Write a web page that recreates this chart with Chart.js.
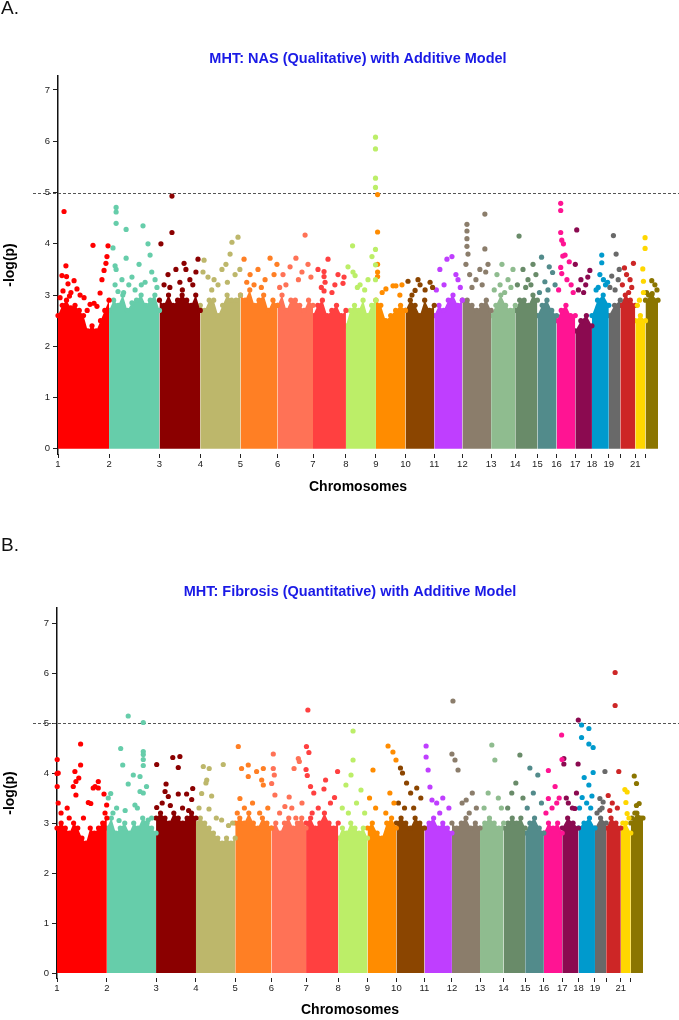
<!DOCTYPE html>
<html><head><meta charset="utf-8">
<script src="https://cdn.jsdelivr.net/npm/chart.js@4.4.0/dist/chart.umd.min.js"></script>
<style>
html,body{margin:0;padding:0;background:#fff;width:679px;height:1020px;overflow:hidden;font-family:"Liberation Sans",Arial,sans-serif;}
.lbl{position:absolute;left:1px;font-size:19px;color:#111;z-index:2;}
.box{position:absolute;left:0;width:679px;height:510px;}
</style></head><body>
<div class="lbl" style="top:-3px">A.</div>
<div class="box" style="top:0"><canvas id="cA" width="679" height="510"></canvas></div>
<div class="lbl" style="top:534px">B.</div>
<div class="box" style="top:510px"><canvas id="cB" width="679" height="510"></canvas></div>
<script>
const chromosomes = ['1','2','3','4','5','6','7','8','9','10','11','12','13','14','15','16','17','18','19','20','21','22'];
const chromSpanMb = [245,242,196,193,178,170,158,144,142,138,135,138,116,106,92,90,80,81,55,72,49,60];
const tickLabels = ['1','2','3','4','5','6','7','8','9','10','11','12','13','14','15','16','17','18','19','','21',''];
const yTickValues = [0,1,2,3,4,5,6,7];
const chromColors = ['#FF0000','#66CDAA','#8B0000','#BDB76B','#FF7F24','#FF7256','#FF4040','#BCEE68','#FF8C00','#8B4500','#BF3EFF','#8B7D6B','#8FBC8F','#698B69','#528B8B','#FF1493','#8B0A50','#009ACD','#696969','#CD2626','#FFD700','#8B7500'];
const significanceThreshold = 5;
const titleA = 'MHT: NAS (Qualitative) with Additive Model';
const titleB = 'MHT: Fibrosis (Quantitative) with Additive Model';

// Panel A: top of the dense band of SNPs, sampled evenly along each chromosome
const envA = [
 [2.6,2.8,2.9,2.75,2.8,2.7,2.6,2.3,2.4,2.3,2.5,2.7,2.9],
 [2.7,2.9,2.8,3.0,2.7,2.85,2.9,3.0,2.8,2.9,3.0,2.7],
 [2.9,2.8,3.0,2.8,2.9,3.0,2.9,2.8,3.0,2.7],
 [2.8,2.7,2.9,2.9,2.6,2.8,3.0,2.9,2.9,3.0],
 [3.0,2.9,3.1,2.8,2.9,3.0,2.7,2.9,2.8],
 [2.8,3.0,2.7,2.9,2.9,2.8,2.7,2.9,2.8],
 [2.6,2.8,2.9,2.6,2.7,2.8,2.6,2.7],
 [2.4,2.7,2.8,2.7,2.9,2.6,2.8,2.9],
 [2.9,2.8,2.5,2.6,2.7,2.8,2.7],
 [2.7,2.9,2.8,2.6,2.9,2.7,2.8],
 [2.6,2.8,2.7,2.9,3.0,2.8,2.9],
 [2.9,2.9,2.8,2.7,2.8,2.9,2.7],
 [2.6,2.8,3.0,2.8,2.7,2.8],
 [2.7,2.9,2.9,2.8,3.0,2.9],
 [2.6,2.8,2.9,2.7,2.6],
 [2.5,2.7,2.8,2.6,2.6],
 [2.3,2.5,2.6,2.4],
 [2.6,2.9,3.0,2.8],
 [2.6,2.8,2.9],
 [2.8,3.0,2.9,2.8],
 [2.5,2.6,2.5],
 [2.9,3.0,2.9]
];
// Panel A: individual SNPs above the band, [position within chromosome (Mb), -log(p)]
const peaksA = [
 [[29,4.63],[168,3.97],[240,3.96],[235,3.75],[230,3.62],[221,3.48],[211,3.3],[38,3.57],[19,3.38],[41,3.36],[77,3.28],[48,3.22],[91,3.12],[24,3.08],[62,3.05],[106,3.0],[154,2.82],[173,2.84],[202,3.04],[187,2.78],[125,2.95],[10,2.95],[55,2.98],[140,2.7]],
 [[34,4.71],[34,4.62],[34,4.40],[19,3.92],[29,3.57],[34,3.5],[29,3.2],[43,3.07],[82,3.72],[82,4.28],[163,4.35],[187,4.0],[197,3.78],[144,3.6],[110,3.35],[62,3.3],[173,3.25],[221,3.3],[125,3.1],[95,3.2],[205,3.45],[230,3.15],[155,3.2],[70,3.05]],
 [[60,4.93],[60,4.22],[7,4.0],[118,3.62],[127,3.5],[175,3.45],[79,3.5],[41,3.4],[146,3.3],[98,3.25],[22,3.2],[185,3.7],[160,3.2],[110,3.1],[50,3.15]],
 [[18,3.68],[13,3.45],[37,3.35],[66,3.3],[104,3.5],[143,3.8],[152,4.03],[181,4.13],[123,3.6],[167,3.4],[85,3.2],[190,3.5],[55,3.1],[130,3.25]],
 [[17,3.7],[46,3.4],[84,3.5],[142,3.72],[118,3.3],[161,3.4],[65,3.2],[30,3.25],[100,3.15],[175,3.6]],
 [[26,3.4],[60,3.55],[88,3.72],[117,3.45],[132,4.17],[146,3.6],[40,3.2],[100,3.3],[160,3.35],[10,3.15]],
 [[53,3.46],[53,3.36],[58,3.25],[53,3.08],[91,3.05],[24,3.5],[120,3.4],[149,3.35],[144,3.23],[72,3.7],[40,3.15],[105,3.2]],
 [[10,3.55],[32,3.96],[34,3.45],[44,3.38],[68,3.2],[106,3.3],[125,3.75],[142,6.08],[142,5.85],[142,5.28],[142,5.10],[142,3.89],[142,3.59],[142,3.3],[90,3.1],[55,3.15]],
 [[8,4.96],[8,4.23],[8,3.45],[8,3.36],[8,3.6],[48,3.12],[82,3.18],[96,3.18],[115,3.0],[125,3.2],[30,3.05]],
 [[12,3.27],[46,3.09],[70,3.2],[94,3.1],[118,3.25],[31,3.0],[130,3.15],[60,3.3]],
 [[27,3.5],[61,3.7],[85,3.75],[104,3.4],[47,3.2],[114,3.3],[10,3.1],[125,3.15]],
 [[22,4.38],[22,4.25],[22,4.1],[22,3.95],[27,3.8],[17,3.6],[108,4.58],[65,3.3],[84,3.5],[123,3.6],[46,3.15],[108,3.9],[112,3.45],[95,3.2],[35,3.4]],
 [[28,3.4],[52,3.6],[81,3.3],[105,3.5],[43,3.2],[15,3.1],[95,3.15],[65,3.05]],
 [[18,4.15],[37,3.5],[61,3.3],[85,3.6],[99,3.4],[50,3.15],[75,3.2],[10,3.2]],
 [[20,3.74],[57,3.55],[73,3.44],[36,3.26],[51,3.1],[85,3.2],[10,3.05]],
 [[20,4.79],[20,4.65],[20,4.22],[25,4.07],[33,4.0],[30,3.76],[41,3.78],[61,3.65],[20,3.54],[25,3.42],[50,3.3],[70,3.2],[80,3.05],[10,3.1]],
 [[7,4.27],[0,3.6],[70,3.48],[27,3.3],[50,3.2],[60,3.35],[15,3.1],[40,3.05]],
 [[47,3.78],[47,3.63],[38,3.4],[55,3.3],[65,3.2],[20,3.1],[75,3.25],[30,3.15]],
 [[22,4.16],[35,3.8],[14,3.37],[45,3.3],[5,3.15],[30,3.1],[50,3.5]],
 [[20,3.53],[63,3.62],[30,3.4],[47,3.3],[10,3.2],[55,3.15],[40,3.05]],
 [[47,4.12],[47,3.91],[36,3.51],[39,3.27],[39,3.05],[20,2.9],[10,2.8]],
 [[30,3.28],[45,3.2],[32,3.03],[15,3.0],[55,3.1],[5,3.05]]
];

// Panel B
const envB = [
 [2.9,3.0,2.9,2.8,3.0,2.9,2.7,2.6,2.9,2.8,2.9,3.0,3.1],
 [2.9,3.1,2.8,2.9,3.0,2.8,3.0,2.9,3.1,3.0,2.9,2.8],
 [3.1,3.2,3.1,3.0,3.2,3.1,3.0,3.1,3.2,3.1],
 [3.0,3.1,3.0,2.9,2.8,2.7,2.6,2.7,2.6,2.7],
 [3.0,3.1,3.0,3.2,3.0,2.9,3.1,3.0,2.9],
 [2.9,3.0,2.8,3.0,3.1,2.9,3.0,3.1,2.9],
 [3.0,3.1,2.9,3.0,3.2,3.0,2.9,3.0],
 [2.7,2.9,2.8,3.0,2.9,2.8,2.9,2.7],
 [2.9,3.0,2.8,2.7,3.0,3.1,2.9],
 [3.0,3.1,3.0,2.9,3.1,3.0,2.9],
 [2.9,3.0,3.1,2.9,3.0,2.9,2.8],
 [3.0,2.9,3.0,3.1,2.9,3.0,2.9],
 [2.9,3.0,3.1,3.0,2.9,3.0],
 [2.9,3.0,3.1,3.0,3.1,2.9],
 [2.8,3.0,3.1,2.9,2.8],
 [2.8,3.0,2.9,3.0,2.8],
 [2.9,3.1,3.0,2.9],
 [2.9,3.0,3.1,2.9],
 [2.9,3.1,3.0],
 [2.9,3.1,3.0,2.9],
 [2.9,3.0,2.8],
 [3.0,3.2,3.1]
];
const peaksB = [
 [[1,4.27],[6,4.0],[0,3.99],[1,3.73],[6,3.4],[116,4.58],[116,4.16],[88,4.03],[93,3.83],[107,3.9],[80,3.73],[93,3.56],[154,3.41],[166,3.39],[187,3.73],[203,3.83],[178,3.7],[203,3.7],[231,3.58],[244,3.36],[236,3.2],[20,3.2],[50,3.3],[130,3.1],[60,3.1]],
 [[105,5.14],[179,5.01],[68,4.49],[78,4.16],[179,4.43],[179,4.37],[179,4.27],[179,4.15],[130,3.96],[163,3.93],[105,3.78],[195,3.73],[163,3.63],[179,3.6],[19,3.59],[7,3.5],[48,3.3],[138,3.36],[203,3.06],[30,3.2],[90,3.25],[150,3.3],[220,3.1],[60,3.05]],
 [[3,4.17],[82,4.31],[117,4.33],[109,4.11],[49,3.78],[44,3.63],[60,3.53],[109,3.58],[150,3.58],[180,3.69],[175,3.47],[3,3.31],[30,3.4],[70,3.35],[130,3.3],[160,3.25]],
 [[36,4.13],[65,4.09],[134,4.17],[53,3.86],[49,3.8],[28,3.59],[77,3.54],[64,3.28],[126,3.06],[100,3.1],[160,2.95],[15,3.3],[180,3.0]],
 [[15,4.53],[31,4.09],[64,4.16],[64,3.93],[105,4.03],[138,4.09],[130,3.86],[138,3.76],[23,3.49],[45,3.3],[85,3.4],[160,3.3],[120,3.2],[10,3.2]],
 [[9,4.38],[9,4.09],[14,3.96],[1,3.79],[17,3.56],[111,4.09],[132,4.29],[137,4.23],[87,3.52],[66,3.33],[40,3.2],[100,3.3],[150,3.4],[120,3.1]],
 [[9,5.26],[2,4.53],[14,4.41],[0,4.07],[6,3.95],[22,3.73],[38,3.6],[96,3.86],[88,3.68],[155,4.03],[140,3.51],[60,3.3],[120,3.4],[30,3.2]],
 [[73,4.84],[73,4.26],[63,3.96],[38,3.76],[112,3.66],[20,3.3],[90,3.4],[130,3.2],[50,3.2]],
 [[101,4.54],[125,4.42],[140,4.26],[27,4.06],[10,3.5],[40,3.3],[110,3.6],[130,3.4],[90,3.2]],
 [[20,4.1],[30,4.0],[50,3.8],[70,3.6],[100,3.7],[120,3.5],[10,3.4],[85,3.3],[40,3.3]],
 [[8,4.54],[8,4.32],[18,4.06],[27,3.72],[37,3.46],[60,3.4],[90,3.5],[120,3.3],[75,3.2]],
 [[5,5.44],[0,4.38],[15,4.26],[30,4.06],[70,3.46],[50,3.4],[100,3.6],[120,3.3],[85,3.2]],
 [[58,4.56],[73,4.26],[40,3.6],[90,3.5],[20,3.3],[105,3.3]],
 [[80,4.36],[60,3.8],[40,3.6],[95,3.5],[20,3.3]],
 [[23,4.1],[62,3.96],[40,3.6],[80,3.4],[10,3.3]],
 [[87,4.76],[89,4.27],[22,4.05],[55,3.73],[22,3.49],[63,3.4],[40,3.3],[75,3.5],[10,3.2]],
 [[79,5.06],[8,4.29],[8,4.18],[78,4.18],[62,3.29],[30,3.4],[50,3.3],[20,3.5],[70,3.6]],
 [[15,4.96],[51,4.89],[15,4.71],[51,4.58],[72,4.51],[72,4.01],[28,3.91],[51,3.76],[18,3.51],[66,3.54],[40,3.4],[60,3.3],[5,3.3]],
 [[49,4.03],[24,3.49],[40,3.42],[24,3.26],[10,3.2],[35,3.3]],
 [[44,6.01],[44,5.35],[62,4.03],[10,3.55],[18,3.25],[30,3.4],[55,3.3]],
 [[20,3.67],[31,3.62],[25,3.41],[31,3.19],[10,3.0],[40,3.1]],
 [[17,3.94],[28,3.79],[41,3.39],[28,3.35],[20,3.2],[50,3.1],[5,3.1]]
];

Chart.defaults.font.family = '"Liberation Sans", Arial, sans-serif';
const chromStarts = [];
chromSpanMb.reduce((acc, s) => { chromStarts.push(acc); return acc + s; }, 0);
const genomeLength = chromSpanMb.reduce((a, b) => a + b, 0);

const thresholdPlugin = {
  id: 'threshold',
  beforeDatasetsDraw(chart) {
    const y = chart.scales.y.getPixelForValue(significanceThreshold);
    const ctx = chart.ctx;
    ctx.save();
    ctx.strokeStyle = '#555';
    ctx.lineWidth = 1;
    ctx.setLineDash([3, 2]);
    ctx.beginPath();
    ctx.moveTo(33, Math.round(y) + 0.5);
    ctx.lineTo(chart.width, Math.round(y) + 0.5);
    ctx.stroke();
    ctx.restore();
  }
};

function buildDatasets(env, peaks) {
  const ds = [];
  chromosomes.forEach((c, i) => {
    const pts = peaks[i].map(([p, v]) => ({ x: chromStarts[i] + p, y: v }));
    ds.push({ type: 'scatter', label: 'chr' + c + ' top', data: pts, backgroundColor: chromColors[i], borderWidth: 0, pointRadius: 2.6, pointHoverRadius: 2.6, order: 0, clip: false });
  });
  chromosomes.forEach((c, i) => {
    const n = env[i].length;
    const pts = env[i].map((v, k) => ({ x: chromStarts[i] + k * chromSpanMb[i] / (n - 1), y: v }));
    ds.push({ type: 'line', label: 'chr' + c, data: pts, fill: 'origin', backgroundColor: chromColors[i], borderColor: chromColors[i], borderWidth: 0, pointRadius: 2.6, pointBackgroundColor: chromColors[i], pointBorderWidth: 0, tension: 0, order: 1, clip: false });
  });
  return ds;
}

function makeChart(id, title, env, peaks, g) {
  return new Chart(document.getElementById(id), {
    type: 'scatter',
    data: { datasets: buildDatasets(env, peaks) },
    plugins: [thresholdPlugin],
    options: {
      responsive: false, animation: false, events: [],
      layout: { padding: { left: 0, right: g.padRight, top: 0, bottom: g.padBottom } },
      plugins: {
        legend: { display: false }, tooltip: { enabled: false },
        title: { display: true, text: title, fullSize: false, color: '#1a1ae6', font: { size: 14.5, weight: 'bold' }, padding: { top: g.titleTop, bottom: g.titleBottom } }
      },
      scales: {
        x: {
          type: 'linear', min: 0, max: genomeLength,
          afterBuildTicks: s => { s.ticks = chromStarts.map(v => ({ value: v })); },
          afterFit: s => { s.height = g.xHeight; },
          ticks: { autoSkip: false, maxRotation: 0, minRotation: 0, padding: 1, color: '#222', font: { size: 9.5 }, callback: (v, i) => tickLabels[i] },
          grid: { display: true, drawOnChartArea: false, drawTicks: true, tickLength: 4, color: '#222' },
          border: { display: false },
          title: { display: true, text: 'Chromosomes', color: '#000', font: { size: 14, weight: 'bold' }, padding: { top: 0, bottom: 0 } }
        },
        y: {
          type: 'linear', min: -0.1, max: g.yMax,
          afterBuildTicks: s => { s.ticks = yTickValues.map(v => ({ value: v })); },
          afterFit: s => { s.width = g.yWidth; },
          ticks: { padding: 3, color: '#222', font: { size: 9.5 }, callback: v => String(v) },
          grid: { display: true, drawOnChartArea: false, tickLength: 5, color: '#222' },
          border: { display: true, color: '#111', width: 1.5 },
          title: { display: true, text: '-log(p)', color: '#000', font: { size: 14, weight: 'bold' }, padding: { top: 1.6, bottom: 0 } }
        }
      }
    }
  });
}

makeChart('cA', titleA, envA, peaksA, { padRight: 21, padBottom: 14.6, titleTop: 50.3, titleBottom: 8.3, xHeight: 41.4, yMax: 7.273, yWidth: 58 });
makeChart('cB', titleB, envB, peaksB, { padRight: 36, padBottom: 1.6, titleTop: 73.3, titleBottom: 7.3, xHeight: 40.4, yMax: 7.3, yWidth: 57 });
</script>
</body></html>
